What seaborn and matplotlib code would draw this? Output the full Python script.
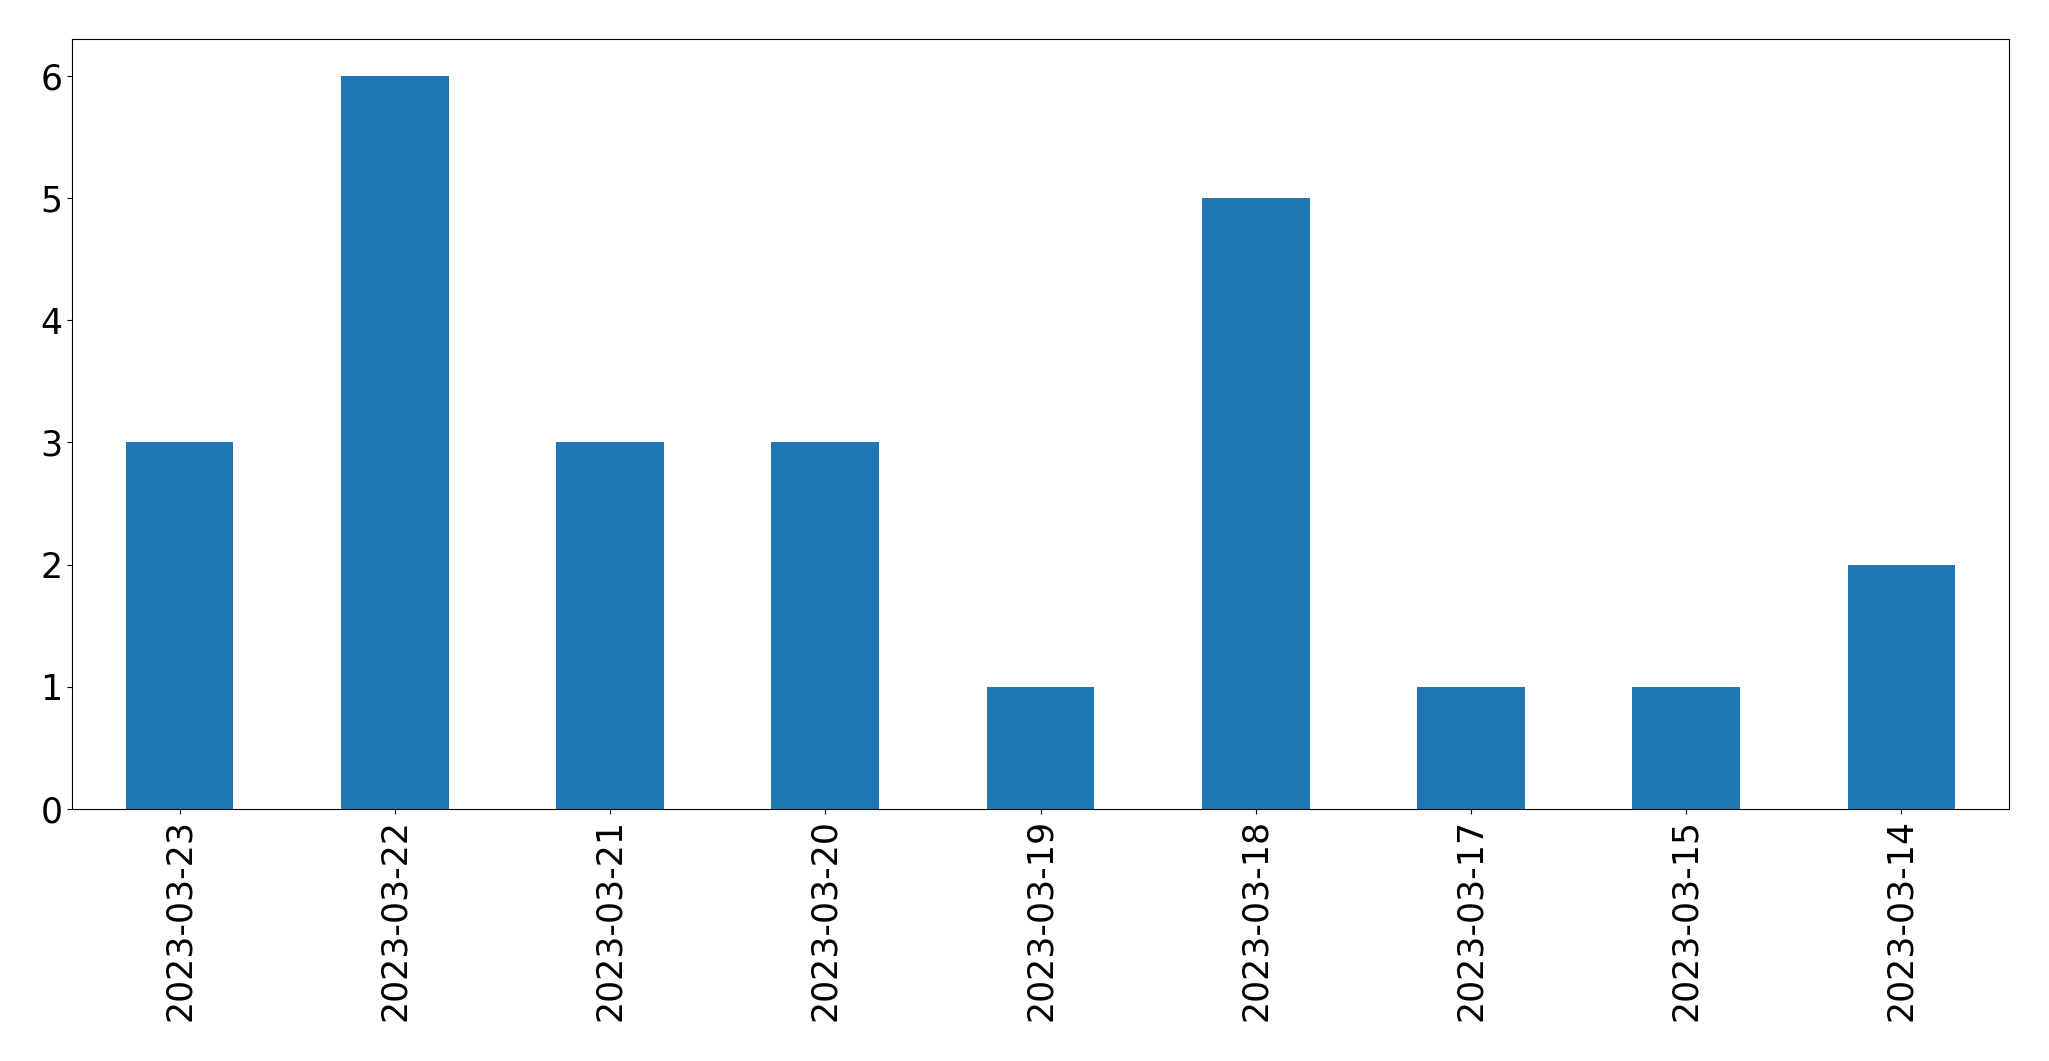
import matplotlib
matplotlib.use("Agg")
import matplotlib.pyplot as plt
import seaborn as sns
import pandas as pd

dates = ["2023-03-23", "2023-03-22", "2023-03-21", "2023-03-20", "2023-03-19",
         "2023-03-18", "2023-03-17", "2023-03-15", "2023-03-14"]
counts = [3, 6, 3, 3, 1, 5, 1, 1, 2]

df = pd.DataFrame({"date": dates, "count": counts})

fig = plt.figure(figsize=(20.49, 10.61), dpi=100)
ax = fig.add_axes([72 / 2049, 1 - 809 / 1061, (2009 - 72) / 2049, (809 - 39) / 1061])
sns.barplot(data=df, x="date", y="count", order=dates, color="#1f77b4",
            saturation=1, width=0.5, ax=ax)
ax.set_xlim(-0.5, len(dates) - 0.5)
ax.set_ylim(0, max(counts) * 1.05)
ax.set_xlabel("")
ax.set_ylabel("")
ax.tick_params(axis="both", labelsize=25)
plt.setp(ax.get_xticklabels(), rotation=90)
for s in ax.spines.values():
    s.set_visible(True)
    s.set_color("black")
fig.savefig("out.png", dpi=100)
